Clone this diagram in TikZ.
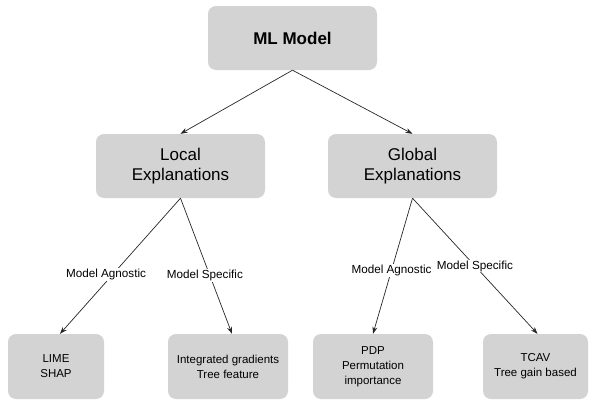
\documentclass[tikz,border=0pt]{standalone}
\usepackage{fontspec}
\setmainfont{Liberation Sans}
\usetikzlibrary{arrows.meta}
\definecolor{boxgray}{HTML}{D3D3D3}
\tikzset{
  topbox/.style={fill=boxgray, rounded corners=8pt, minimum width=169pt, minimum height=64pt, align=center, font=\fontsize{17}{20}\selectfont},
  leafbox/.style={fill=boxgray, rounded corners=8pt, minimum height=65pt, align=center, font=\fontsize{11.5}{15}\selectfont},
  edgelabel/.style={fill=white, inner sep=1pt, font=\fontsize{11.7}{14}\selectfont},
  conn/.style={->, >={Stealth[length=7pt,width=5pt]}, line width=0.7pt, draw=black!85}
}
\begin{document}
\begin{tikzpicture}[x=1pt,y=-1pt]
      \useasboundingbox (0,0) rectangle (590,400);
      \node[topbox, font=\fontsize{17}{20}\selectfont\bfseries] (ml) at (292.5,38) {ML Model};
      \node[topbox] (local)  at (180.5,166) {Local\\Explanations};
      \node[topbox] (global) at (412.5,166) {Global\\Explanations};
      \node[leafbox, minimum width=96pt]  (lime) at (56,366.5) {LIME\\SHAP};
      \node[leafbox, minimum width=120pt] (ig)   at (228,366.5) {Integrated gradients\\Tree feature};
      \node[leafbox, minimum width=120pt] (pdp)  at (373,366.5) {PDP\\Permutation\\importance};
      \node[leafbox, minimum width=105pt] (tcav) at (535.5,366.5) {TCAV\\Tree gain based};
      % ML model -> local / global
      \draw[conn] (ml.south) -- (local.north);
      \draw[conn] (ml.south) -- (global.north);
      % local explanations
      \draw[conn] (local.south) -- node[edgelabel, pos=0.56, xshift=-7pt] {Model Agnostic} ([xshift=4pt]lime.north);
      \draw[conn] (local.south) -- node[edgelabel, pos=0.57, xshift=-5pt] {Model Specific} ([xshift=4pt]ig.north);
      % global explanations
      \draw[conn] (global.south) -- node[edgelabel, pos=0.53] {Model Agnostic} (pdp.north);
      \draw[conn] (global.south) -- node[edgelabel, pos=0.5] {Model Specific} ([xshift=2pt]tcav.north);
\end{tikzpicture}
\end{document}
